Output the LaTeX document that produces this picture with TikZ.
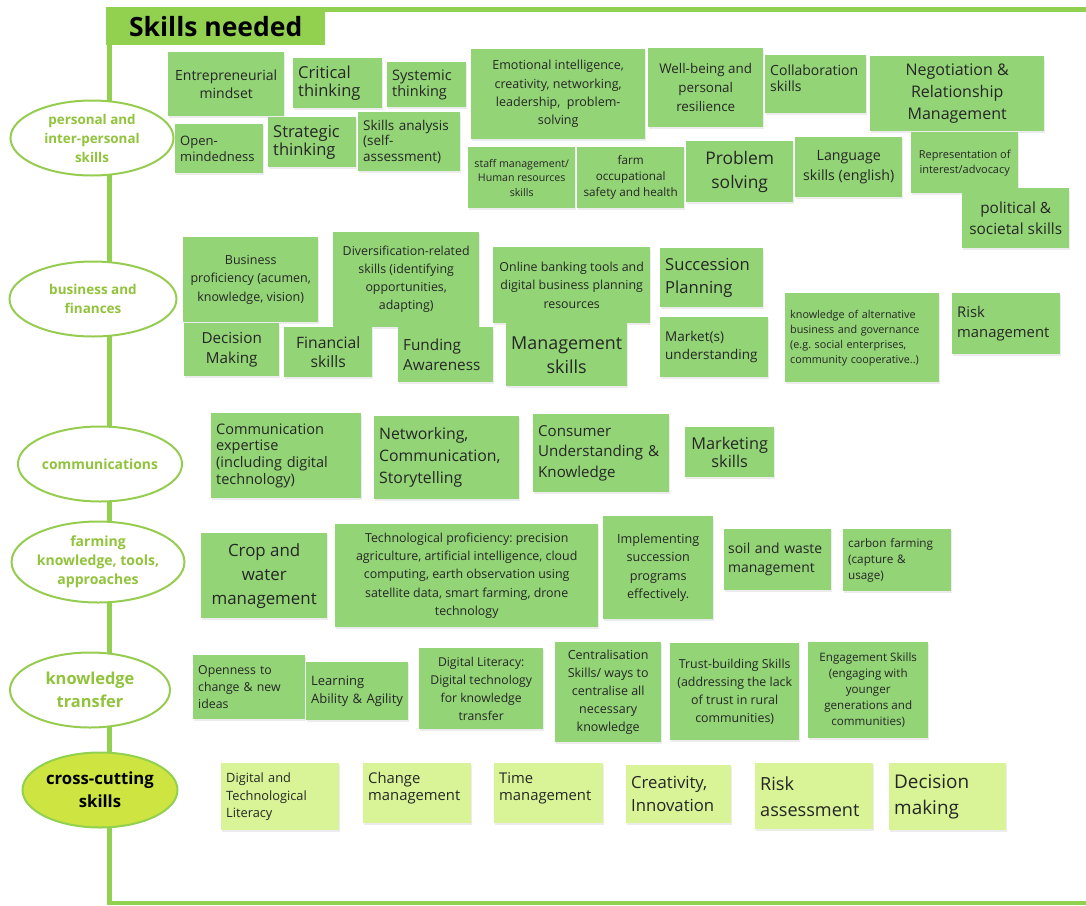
\documentclass[tikz,border=0pt]{standalone}
\usepackage{fontspec}
\setmainfont{Open Sans}
\usetikzlibrary{shapes.geometric,shadows}
\definecolor{framegreen}{RGB}{146,208,80}
\definecolor{notegreen}{RGB}{147,212,118}
\definecolor{crossnote}{RGB}{216,244,150}
\definecolor{notetext}{RGB}{38,38,38}
\definecolor{catline}{RGB}{150,205,80}
\definecolor{cattext}{RGB}{145,195,60}
\definecolor{crossfill}{RGB}{205,228,65}
\tikzstyle{frame}=[draw=framegreen,line width=4.5pt]
\tikzstyle{note}=[fill=notegreen,anchor=north west,inner xsep=5pt,inner ysep=2pt,text=notetext,
    drop shadow={opacity=0.15,shadow xshift=1.2pt,shadow yshift=-1.5pt}]
\tikzstyle{cross}=[note,fill=crossnote]
\tikzstyle{cat}=[ellipse,draw=catline,line width=2pt,fill=white,text=cattext,align=center,inner sep=0pt]
\frenchspacing

\begin{document}
\begin{tikzpicture}[x=1pt,y=-1pt]
        \useasboundingbox (0,0) rectangle (1086,905);
        % frame and title
        \coordinate (tr) at (1086,9.5);
        \coordinate (tl) at (109.5,9.5);
        \coordinate (bl) at (109.5,903);
        \coordinate (br) at (1086,903);
        \draw[frame] (tr) -- (tl) -- (bl) -- (br);
        \node (title) [fill=framegreen,anchor=north west,minimum height=38pt,minimum width=219pt,
            font=\bfseries\fontsize{26.5}{29}\selectfont,text=black] at (106,7) {Skills needed};

        % personal and inter-personal skills
        \node (entre) [note,minimum width=116pt,minimum height=64pt,align=center,font=\fontsize{14}{18.7}\selectfont] at (168,52) {Entrepreneurial\\mindset};
        \node (crit) [note,text width=79pt,minimum height=50pt,align=left,font=\fontsize{16.5}{18.5}\selectfont] at (293,58) {Critical\\thinking};
        \node (syst) [note,text width=69pt,minimum height=45pt,align=left,font=\fontsize{14.5}{16.5}\selectfont] at (387,62) {Systemic\\thinking};
        \node (emo) [note,minimum width=174pt,minimum height=90pt,align=center,font=\fontsize{12.5}{18.3}\selectfont] at (471,49) {Emotional intelligence,\\creativity, networking,\\leadership,\ \ problem-\\solving};
        \node (well) [note,minimum width=115pt,minimum height=79pt,align=center,font=\fontsize{13.4}{19}\selectfont] at (648,48) {Well-being and\\personal\\resilience};
        \node (collab) [note,text width=91pt,minimum height=58pt,align=left,font=\fontsize{14}{15.5}\selectfont] at (765,55) {Collaboration\\skills\par\vspace*{12pt}};
        \node (negot) [note,minimum width=174pt,minimum height=75pt,align=center,font=\fontsize{16}{21.7}\selectfont] at (870,56) {Negotiation \&\\Relationship\\Management};
        \node (open) [note,text width=78pt,minimum height=49pt,align=left,font=\fontsize{13}{16.7}\selectfont] at (175,124) {Open-\\mindedness};
        \node (strat) [note,text width=78pt,minimum height=50pt,align=left,font=\fontsize{16.5}{17.5}\selectfont] at (268,117) {Strategic\\thinking};
        \node (analys) [note,text width=92pt,minimum height=59pt,align=left,font=\fontsize{13.5}{15.5}\selectfont] at (358,112) {Skills analysis\\(self-\\assessment)};
        \node (staff) [note,minimum width=107pt,minimum height=61pt,inner xsep=2pt,align=center,font=\fontsize{10.6}{14.7}\selectfont] at (468,147) {staff management/\\Human resources\\skills};
        \node (safety) [note,minimum width=107pt,minimum height=61pt,align=center,font=\fontsize{11.7}{16}\selectfont] at (577,147) {farm\\occupational\\safety and health};
        \node (probl) [note,minimum width=107pt,minimum height=61pt,align=center,font=\fontsize{17.4}{24}\selectfont] at (686,141) {Problem\\solving};
        \node (lang) [note,minimum width=107pt,minimum height=60pt,align=center,font=\fontsize{14.2}{20}\selectfont] at (795,137) {Language\\skills (english)};
        \node (advoc) [note,minimum width=107pt,minimum height=61pt,align=center,font=\fontsize{11}{15}\selectfont] at (911,132) {Representation of\\interest/advocacy};
        \node (polit) [note,minimum width=107pt,minimum height=60pt,align=center,font=\fontsize{15.4}{20.7}\selectfont] at (962,188) {political \&\\societal skills};

        % business and finances
        \node (busin) [note,minimum width=135pt,minimum height=85pt,align=center,font=\fontsize{12.5}{18.3}\selectfont] at (183,237) {Business\\proficiency (acumen,\\knowledge, vision)};
        \node (divers) [note,minimum width=146pt,minimum height=95pt,align=center,font=\fontsize{12.4}{18}\selectfont] at (333,232) {Diversification-related\\skills (identifying\\opportunities,\\adapting)};
        \node (bank) [note,minimum width=157pt,minimum height=76pt,inner xsep=3pt,align=center,font=\fontsize{12.4}{18.3}\selectfont] at (493,247) {Online banking tools and\\digital business planning\\resources};
        \node (succ) [note,text width=93pt,minimum height=59pt,align=left,font=\fontsize{16.6}{23}\selectfont] at (660,248) {Succession\\Planning};
        \node (decis) [note,minimum width=95pt,minimum height=53pt,align=center,font=\fontsize{15.2}{20}\selectfont] at (184,323) {Decision\\Making};
        \node (finan) [note,minimum width=88pt,minimum height=50pt,align=center,font=\fontsize{15.7}{18.3}\selectfont] at (284,327) {Financial\\skills};
        \node (fund) [note,text width=85pt,minimum height=55pt,align=left,font=\fontsize{15.3}{20.7}\selectfont] at (398,327) {Funding\\Awareness};
        \node (manag) [note,minimum width=120pt,minimum height=63pt,align=center,font=\fontsize{17.9}{24}\selectfont] at (506,323) {Management\\skills};
        \node (market) [note,text width=98pt,minimum height=60pt,align=left,font=\fontsize{13.5}{18.3}\selectfont] at (660,317) {Market(s)\\understanding};
        \node (altern) [note,text width=144pt,minimum height=89pt,align=left,font=\fontsize{10.8}{15}\selectfont] at (785,293) {knowledge of alternative\\business and governance\\(e.g. social enterprises,\\community cooperative..)};
        \node (riskm) [note,text width=98pt,minimum height=61pt,align=left,font=\fontsize{14.8}{20}\selectfont] at (952,293) {Risk\\management};

        % communications
        \node (commx) [note,text width=140pt,minimum height=85pt,align=left,font=\fontsize{14.5}{16.7}\selectfont] at (211,413) {Communication\\expertise\\(including digital\\technology)};
        \node (netw) [note,text width=135pt,minimum height=83pt,align=left,font=\fontsize{15.8}{22}\selectfont] at (374,416) {Networking,\\Communication,\\Storytelling};
        \node (consu) [note,text width=126pt,minimum height=78pt,align=left,font=\fontsize{15.1}{20.7}\selectfont] at (533,414) {Consumer\\Understanding \&\\Knowledge};
        \node (mktg) [note,minimum width=89pt,minimum height=50pt,align=center,font=\fontsize{16.3}{18.3}\selectfont] at (685,427) {Marketing\\skills};

        % farming knowledge, tools, approaches
        \node (crop) [note,minimum width=126pt,minimum height=85pt,align=center,font=\fontsize{16.9}{24}\selectfont] at (201,533) {Crop and\\water\\management};
        \node (tech) [note,minimum width=263pt,minimum height=103pt,align=center,font=\fontsize{12.4}{18.3}\selectfont] at (335,524) {Technological proficiency: precision\\agriculture, artificial intelligence, cloud\\computing, earth observation using\\satellite data, smart farming, drone\\technology};
        \node (implem) [note,minimum width=110pt,minimum height=103pt,align=center,font=\fontsize{12.6}{18.3}\selectfont] at (603,516) {Implementing\\succession\\programs\\effectively.};
        \node (soil) [note,text width=99pt,minimum height=61pt,inner xsep=4pt,align=left,font=\fontsize{13.9}{19}\selectfont] at (724,529) {soil and waste\\management};
        \node (carbon) [note,text width=98pt,minimum height=62pt,align=left,font=\fontsize{11.7}{16}\selectfont] at (843,529) {carbon farming\\(capture \&\\usage)};

        % knowledge transfer
        \node (openn) [note,text width=102pt,minimum height=64pt,align=left,font=\fontsize{12.3}{16.7}\selectfont] at (193,655) {Openness to\\change \& new\\ideas};
        \node (learn) [note,text width=92pt,minimum height=58pt,align=left,font=\fontsize{13}{17.7}\selectfont] at (306,662) {Learning\\Ability \& Agility};
        \node (diglit) [note,minimum width=124pt,minimum height=81pt,align=center,font=\fontsize{12.2}{18}\selectfont] at (419,648) {Digital Literacy:\\Digital technology\\for knowledge\\transfer};
        \node (centr) [note,minimum width=106pt,minimum height=100pt,align=center,font=\fontsize{12.5}{18}\selectfont] at (555,642) {Centralisation\\Skills/ ways to\\centralise all\\necessary\\knowledge};
        \node (trust) [note,minimum width=129pt,minimum height=97pt,align=center,font=\fontsize{12.4}{18}\selectfont] at (670,643) {Trust-building Skills\\(addressing the lack\\of trust in rural\\communities)};
        \node (engag) [note,minimum width=120pt,minimum height=96pt,align=center,font=\fontsize{11.6}{16}\selectfont] at (808,642) {Engagement Skills\\(engaging with\\younger\\generations and\\communities)};

        % cross-cutting skills
        \node (digtec) [cross,text width=108pt,minimum height=67pt,align=left,font=\fontsize{12.8}{17.7}\selectfont] at (221,763) {Digital and\\Technological\\Literacy};
        \node (chang) [cross,text width=98pt,minimum height=60pt,align=left,font=\fontsize{14.8}{17.3}\selectfont] at (363,763) {Change\\management\par\vspace*{10pt}};
        \node (time) [cross,text width=99pt,minimum height=60pt,align=left,font=\fontsize{14.8}{17.3}\selectfont] at (494,763) {Time\\management\par\vspace*{10pt}};
        \node (creat) [cross,text width=95pt,minimum height=58pt,align=left,font=\fontsize{16.7}{23}\selectfont] at (626,765) {Creativity,\\Innovation};
        \node (riska) [cross,text width=108pt,minimum height=66pt,align=left,font=\fontsize{18.1}{26}\selectfont] at (755,763) {Risk\\assessment};
        \node (decmk) [cross,text width=107pt,minimum height=67pt,align=left,font=\fontsize{18.9}{26.7}\selectfont] at (889,763) {Decision\\making};

        % categories on the left line
        \node (pers) [cat,minimum width=163pt,minimum height=75pt,font=\bfseries\fontsize{13.4}{19}\selectfont] at (92,138) {personal and\\inter-personal\\skills};
        \node (bus) [cat,minimum width=167pt,minimum height=75pt,font=\bfseries\fontsize{13.5}{19}\selectfont] at (93,299) {business and\\finances};
        \node (comm) [cat,minimum width=164pt,minimum height=75pt,font=\bfseries\fontsize{13.9}{19}\selectfont] at (100,464) {communications};
        \node (farm) [cat,minimum width=170pt,minimum height=81pt,font=\bfseries\fontsize{14}{19}\selectfont] at (98,562) {farming\\knowledge, tools,\\approaches};
        \node (know) [cat,minimum width=160pt,minimum height=75pt,font=\bfseries\fontsize{16.4}{23}\selectfont] at (90,690) {knowledge\\transfer};
        \node (cross) [cat,fill=crossfill,draw=framegreen,text=black,minimum width=155pt,minimum height=75pt,font=\bfseries\fontsize{16.7}{23}\selectfont] at (100,790) {cross-cutting\\skills};
\end{tikzpicture}
\end{document}
